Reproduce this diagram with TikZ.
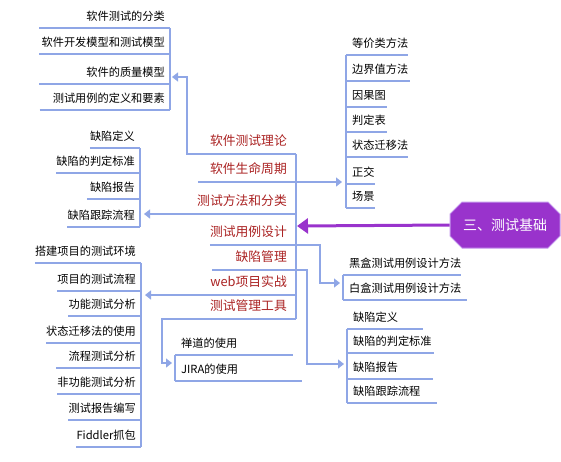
\documentclass[tikz,border=0pt]{standalone}
\usepackage{fontspec}
\newfontfamily\cjk{Noto Sans CJK SC}
\usepackage{xcolor}
\definecolor{mmblue}{RGB}{143,166,230}
\definecolor{mmred}{RGB}{170,34,34}
\definecolor{mmpurple}{RGB}{153,51,204}
\definecolor{mmlilac}{RGB}{196,150,236}
\usetikzlibrary{arrows.meta,positioning,shapes.misc}
\tikzset{
  lnk/.style={draw=mmblue, line width=1.3pt},
  linkarrow/.style={-{Triangle[width=9pt,length=6pt]}},
  subtopic/.style={inner xsep=0pt, inner ysep=5pt, text height=8.5pt, text depth=2.5pt,
    font=\cjk\fontsize{11.2}{13}\selectfont},
  lsub/.style={subtopic, anchor=south east,
    append after command={\pgfextra{\let\thisnode\tikzlastnode}
      ([xshift=-#1]\thisnode.south west) edge[lnk] ([xshift=5pt]\thisnode.south east)}},
  lsub/.default=0pt,
  rsub/.style={subtopic, anchor=south west,
    append after command={\pgfextra{\let\thisnode\tikzlastnode}
      ([xshift=-6pt]\thisnode.south west) edge[lnk] ([xshift=#1]\thisnode.south east)}},
  rsub/.default=0pt,
  maintopic/.style={anchor=south east, inner xsep=0pt, inner ysep=5.6pt, text height=9.5pt,
    text depth=2.5pt, text=mmred, font=\cjk\fontsize{12.8}{15}\selectfont},
  rootbox/.style={chamfered rectangle, chamfered rectangle sep=6pt, draw=mmlilac, line width=1pt,
    fill=mmpurple, text=white, minimum width=110pt, minimum height=46pt, inner sep=0pt,
    font=\cjk\fontsize{14}{16}\selectfont}
}

\begin{document}
\begin{tikzpicture}[x=1pt, y=-1pt]
  \useasboundingbox (0,0) rectangle (561,461);
  % Root
  \node[rootbox] (root) at (505,225) {三、测试基础};
  \coordinate (hub) at (297,226);
  \draw[line width=3pt, mmpurple, -{Triangle[width=15pt,length=11pt]}] (root.west) -- (hub);
  % Main topics
  \node[maintopic] (m1) at (287,154) {软件测试理论};
  \node[maintopic] (m2) at (287,182) {软件生命周期};
  \node[maintopic] (m3) at (287,214) {测试方法和分类};
  \node[maintopic] (m4) at (287,245) {测试用例设计};
  \node[maintopic] (m5) at (287,270) {缺陷管理};
  \node[maintopic] (m6) at (287,295) {web项目实战};
  \node[maintopic] (m7) at (287,319) {测试管理工具};
  \draw[lnk] ([xshift=9pt]m1.south east) -- ([xshift=9pt]m7.south east);
  % Theory
  \node[lsub=47pt] (a1) at (165,28) {软件测试的分类};
  \node[lsub=2pt] (a2) at (165,54) {软件开发模型和测试模型};
  \node[lsub=47pt] (a3) at (165,84) {软件的质量模型};
  \node[lsub=13pt] (a4) at (165,110) {测试用例的定义和要素};
  \draw[lnk] ([xshift=5pt]a1.south east) -- ([xshift=5pt]a4.south east);
  % Defects (left)
  \node[lsub] (b1) at (135,148) {缺陷定义};
  \node[lsub] (b2) at (135,173) {缺陷的判定标准};
  \node[lsub=3pt] (b3) at (135,199) {缺陷报告};
  \node[lsub] (b4) at (135,227) {缺陷跟踪流程};
  \draw[lnk] ([xshift=5pt]b1.south east) -- ([xshift=5pt]b4.south east);
  % Methods
  \node[rsub] (c1) at (352,55) {等价类方法};
  \node[rsub=2pt] (c2) at (352,81) {边界值方法};
  \node[rsub=1pt] (c3) at (352,107) {因果图};
  \node[rsub=1pt] (c4) at (352,132) {判定表};
  \node[rsub] (c5) at (352,157) {状态迁移法};
  \node[rsub] (c6) at (352,184) {正交};
  \node[rsub] (c7) at (352,208) {场景};
  \draw[lnk] ([xshift=-6pt]c1.south west) -- ([xshift=-6pt]c7.south west);
  % Case design
  \node[rsub] (d1) at (349,275) {黑盒测试用例设计方法};
  \node[rsub=6pt] (d2) at (349,300) {白盒测试用例设计方法};
  \draw[lnk] ([xshift=-6pt]d1.south west) -- ([xshift=-6pt]d2.south west);
  % Defects (right)
  \node[rsub=25pt] (e1) at (353,329) {缺陷定义};
  \node[rsub=2pt] (e2) at (353,353) {缺陷的判定标准};
  \node[rsub=35pt] (e3) at (353,379) {缺陷报告};
  \node[rsub=16pt] (e4) at (353,403) {缺陷跟踪流程};
  \draw[lnk] ([xshift=-6pt]e1.south west) -- ([xshift=-6pt]e4.south west);
  % Tools
  \node[rsub=56pt] (f1) at (181,355) {禅道的使用};
  \node[rsub=64pt] (f2) at (181,381) {JIRA的使用};
  \draw[lnk] ([xshift=-6pt]f1.south west) -- ([xshift=-6pt]f2.south west);
  % Web project
  \node[lsub] (g1) at (136,263) {搭建项目的测试环境};
  \node[lsub] (g2) at (136,291) {项目的测试流程};
  \node[lsub] (g3) at (136,316) {功能测试分析};
  \node[lsub] (g4) at (136,343) {状态迁移法的使用};
  \node[lsub=12pt] (g5) at (136,368) {流程测试分析};
  \node[lsub] (g6) at (136,394) {非功能测试分析};
  \node[lsub] (g7) at (136,420) {测试报告编写};
  \node[lsub] (g8) at (136,447) {Fiddler抓包};
  \draw[lnk] ([xshift=5pt]g1.south east) -- ([xshift=5pt]g8.south east);
  % Links
  \coordinate (ain) at (172,77);
  \coordinate (bin) at (144,214);
  \coordinate (cin) at (342,182);
  \coordinate (din) at (340,283);
  \coordinate (ein) at (344,364);
  \coordinate (fin) at (172,363);
  \coordinate (gin) at (145,295);
  \draw[lnk, linkarrow] ([xshift=9pt]m1.south east) -- (187,154) |- (ain);
  \draw[lnk, linkarrow] ([xshift=-12pt]m2.south west) -- (cin);
  \draw[lnk, linkarrow] ([xshift=9pt]m3.south east) -- (bin);
  \draw[lnk, linkarrow] (m4.south west) -- (320,245) |- (din);
  \draw[lnk, linkarrow] ([xshift=-23pt]m5.south west) -- (307,270) |- (ein);
  \draw[lnk, linkarrow] ([xshift=9pt]m6.south east) -- (gin);
  \draw[lnk, linkarrow] ([xshift=9pt]m7.south east) -- (162,319) |- (fin);
\end{tikzpicture}
\end{document}
